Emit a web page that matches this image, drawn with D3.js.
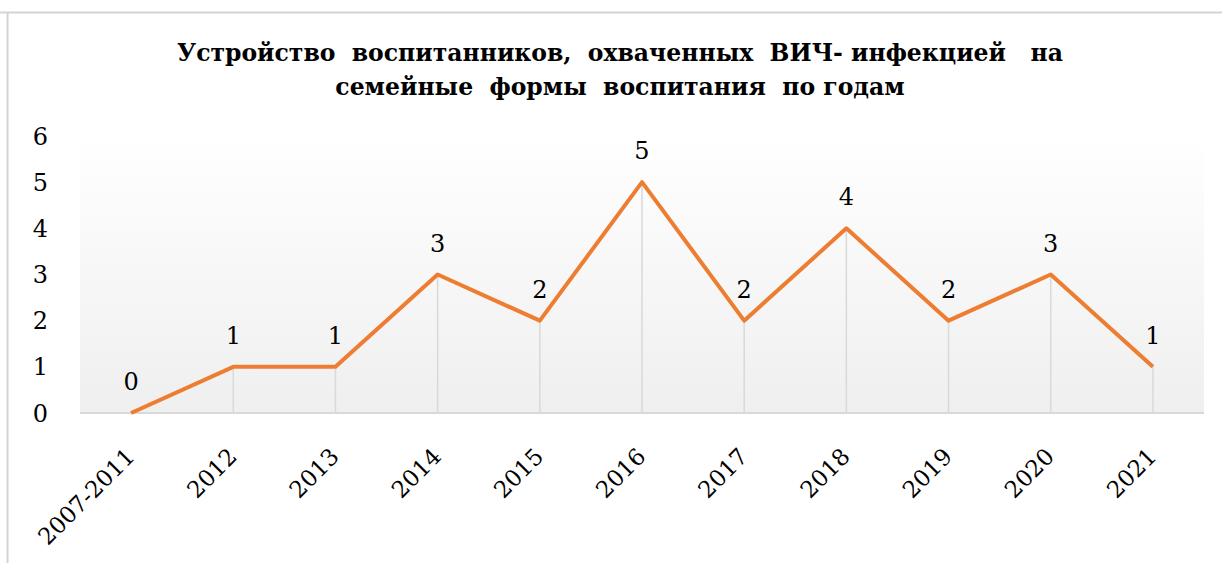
<!DOCTYPE html>
<html>
<head>
<meta charset="utf-8">
<script src="https://cdn.jsdelivr.net/npm/d3@7"></script>
<style>
  body { margin: 0; background: #fff; }
  text { font-family: "DejaVu Serif", serif; fill: #000; }
</style>
</head>
<body>
<script>
var years = ["2007-2011", "2012", "2013", "2014", "2015", "2016", "2017", "2018", "2019", "2020", "2021"];
var counts = [0, 1, 1, 3, 2, 5, 2, 4, 2, 3, 1];
var yTicks = [0, 1, 2, 3, 4, 5, 6];
var titleLines = ["Устройство  воспитанников,  охваченных  ВИЧ- инфекцией   на",
                  "семейные  формы  воспитания  по годам"];

var W = 1222, H = 563;
var margin = {top: 136, left: 80, right: 18, bottom: 150};
var width = W - margin.left - margin.right,
    height = H - margin.top - margin.bottom;

var svg = d3.select('body').append('svg')
  .attr('width', W)
  .attr('height', H);

// frame of the chart (only top and left edges are in view)
svg.append('line')
  .attr('x1', 0).attr('x2', W).attr('y1', 12.5).attr('y2', 12.5)
  .style('stroke', '#d4d4d4').style('stroke-width', 2);
svg.append('line')
  .attr('x1', 7.5).attr('x2', 7.5).attr('y1', 12).attr('y2', H)
  .style('stroke', '#d4d4d4').style('stroke-width', 2);

var defs = svg.append('defs');
var grad = defs.append('linearGradient')
  .attr('id', 'bg').attr('x1', 0).attr('y1', 0).attr('x2', 0).attr('y2', 1);
grad.append('stop').attr('offset', '0%').attr('stop-color', '#ffffff');
grad.append('stop').attr('offset', '100%').attr('stop-color', '#efefef');

var g = svg.append('g')
  .attr('transform', 'translate(' + margin.left + ',' + margin.top + ')');

var x = d3.scaleBand().domain(years).range([0, width]);
var y = d3.scaleLinear().domain([0, 6]).range([height, 0]);

g.append('rect')
  .attr('width', width).attr('height', height)
  .style('fill', 'url(#bg)');

// drop lines
g.selectAll('.drop')
  .data(counts)
  .enter()
  .append('line')
  .attr('class', 'drop')
  .attr('x1', function(d, i) { return x(years[i]) + x.bandwidth() / 2; })
  .attr('x2', function(d, i) { return x(years[i]) + x.bandwidth() / 2; })
  .attr('y1', function(d) { return y(d); })
  .attr('y2', y(0))
  .style('stroke', '#d9d9d9')
  .style('stroke-width', 1.5);

// x axis line
g.append('line')
  .attr('x1', 0).attr('x2', width)
  .attr('y1', y(0)).attr('y2', y(0))
  .style('stroke', '#d9d9d9').style('stroke-width', 2);

// y tick labels
g.selectAll('.ytick')
  .data(yTicks)
  .enter()
  .append('text')
  .attr('class', 'ytick')
  .attr('x', -32)
  .attr('y', function(d) { return y(d); })
  .attr('dy', '0.36em')
  .attr('text-anchor', 'end')
  .style('font-size', '24px')
  .text(function(d) { return d; });

// x tick labels
g.selectAll('.xtick')
  .data(years)
  .enter()
  .append('text')
  .attr('class', 'xtick')
  .attr('text-anchor', 'end')
  .style('font-size', '23px')
  .attr('transform', function(d) {
    return 'translate(' + (x(d) + x.bandwidth() / 2 + 5) + ',' + (height + 45) + ') rotate(-45)';
  })
  .text(function(d) { return d; });

var line = d3.line()
  .x(function(d, i) { return x(years[i]) + x.bandwidth() / 2; })
  .y(function(d) { return y(d); });

g.append('path')
  .datum(counts)
  .attr('d', line)
  .style('fill', 'none')
  .style('stroke', '#ED7D31')
  .style('stroke-width', 4)
  .style('stroke-linejoin', 'round');

g.selectAll('.lbl')
  .data(counts)
  .enter()
  .append('text')
  .attr('class', 'lbl')
  .attr('x', function(d, i) { return x(years[i]) + x.bandwidth() / 2; })
  .attr('y', function(d) { return y(d) - 23; })
  .attr('text-anchor', 'middle')
  .style('font-size', '24px')
  .text(function(d) { return d; });

svg.selectAll('.title')
  .data(titleLines)
  .enter()
  .append('text')
  .attr('class', 'title')
  .attr('x', 620)
  .attr('y', function(d, i) { return 61 + i * 34; })
  .attr('text-anchor', 'middle')
  .style('font-size', '23.5px')
  .style('font-weight', 'bold')
  .style('white-space', 'pre')
  .text(function(d) { return d; });
</script>
</body>
</html>
